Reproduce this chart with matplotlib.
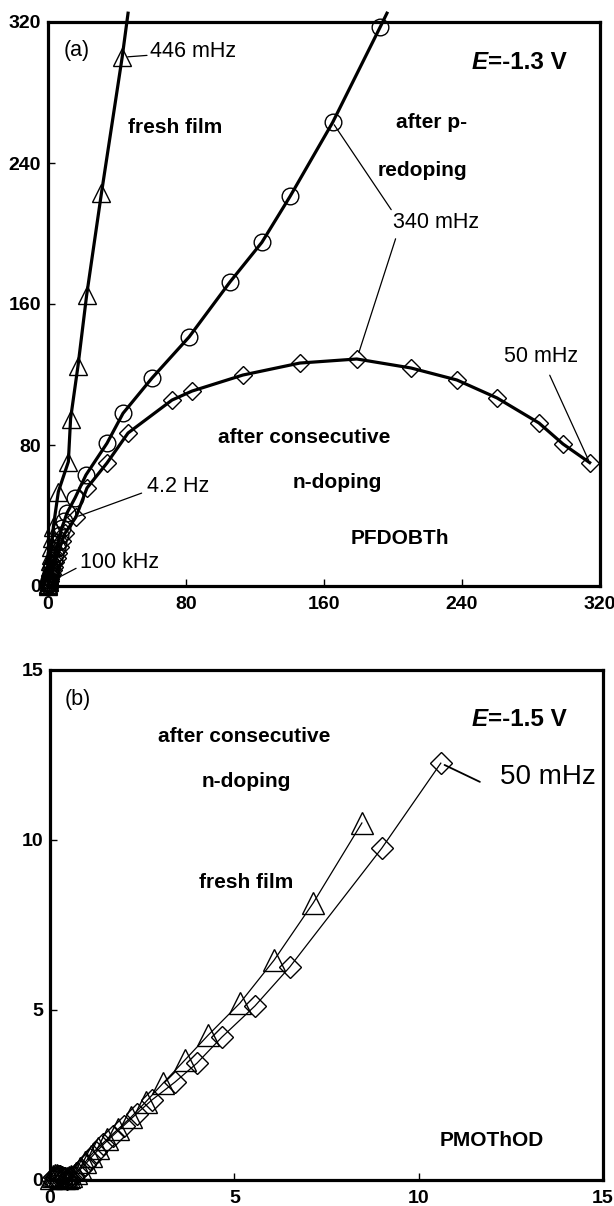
# Nyquist plots (a) PFDOBTh at E=-1.3 V and (b) PMOThOD at E=-1.5 V

import numpy as np
import matplotlib.pyplot as plt

plt.rcParams['font.family'] = ['Liberation Sans', 'DejaVu Sans']

# ---- panel (a) data ----
fresh_a_x = [43, 31, 22.4, 17.4, 13.1, 11.8, 6.0, 3.1, 2.5, 2.0, 1.6, 1.2, 1.0, 0.8,
             0.6, 0.5, 0.4, 0.3, 0.2, 0.1, 0.05]
fresh_a_y = [300, 223, 165, 125, 95, 70.5, 53.5, 33.6, 27, 22, 17.5, 14, 11, 8,
             6, 4, 3, 2, 1.2, 0.5, 0.2]
fresh_a_tail = (46.4, 325)

redop_a_x = [192.5, 165, 140.3, 124, 105.5, 81.8, 60.3, 43.5, 34.2, 22, 15.7, 11,
             9.5, 8, 7, 6, 5, 4, 3.2, 2.5, 2, 1.5, 1.1, 0.8, 0.5, 0.3, 0.1]
redop_a_y = [317, 263, 221, 195, 172.5, 141.3, 118, 98, 81, 63, 50, 41.4,
             37, 33, 29, 25, 21.5, 18, 15, 12, 9.5, 7, 5, 3.5, 2, 1, 0.3]
redop_a_tail = (196.5, 325)

ndop_a_x = [314, 298.5, 284.6, 260.3, 237, 210.4, 179, 146, 113, 83.5, 71.9, 46.4,
            34.2, 22.6, 16.2, 9.9, 8.2, 7, 6, 5, 4.2, 3.5, 2.8, 2.2, 1.7, 1.2, 0.9,
            0.6, 0.4, 0.2]
ndop_a_y = [70, 80.6, 92.5, 106.7, 116.9, 123.7, 128.8, 126.5, 119.7, 110.6, 105.5, 86.8,
            69.8, 55.6, 39.1, 30, 25.5, 22, 19, 16, 13.5, 11, 9, 7, 5.5, 4, 3,
            2, 1.2, 0.5]

ticks_a = [0, 80, 160, 240, 320]

# ---- panel (b) data ----
ndop_b_x = [10.6, 9.0, 6.5, 5.56, 4.66, 3.99, 3.39, 2.76, 2.35, 2.0, 1.7, 1.45, 1.25,
            1.08, 0.95, 0.83, 0.72, 0.62, 0.57, 0.52, 0.47, 0.42, 0.37, 0.32, 0.27,
            0.22, 0.17, 0.12, 0.05]
ndop_b_y = [12.26, 9.76, 6.26, 5.12, 4.2, 3.44, 2.88, 2.35, 1.95, 1.6, 1.3, 1.05, 0.82,
            0.62, 0.45, 0.32, 0.2, 0.1, 0.07, 0.05, 0.04, 0.05, 0.07, 0.1, 0.12,
            0.12, 0.1, 0.08, 0.03]

fresh_b_x = [8.46, 7.14, 6.08, 5.15, 4.29, 3.66, 3.07, 2.6, 2.2, 1.85, 1.55, 1.3, 1.1,
             0.95, 0.82, 0.7, 0.58, 0.52, 0.45, 0.38, 0.3, 0.24, 0.18, 0.13, 0.08, 0.02]
fresh_b_y = [10.5, 8.15, 6.47, 5.2, 4.26, 3.53, 2.85, 2.3, 1.85, 1.5, 1.2, 0.95, 0.72,
             0.52, 0.36, 0.22, 0.12, 0.08, 0.06, 0.06, 0.08, 0.12, 0.15, 0.14, 0.12, 0.05]

ticks_b = [0, 5, 10, 15]

W, H = 614, 1206
fig = plt.figure(figsize=(W/100, H/100), dpi=100)

ax1 = fig.add_axes([48/W, 1 - 586/H, 552/W, 564/H])
ax2 = fig.add_axes([50/W, 1 - 1180/H, 553/W, 510/H])


def style(ax, ticks):
    ax.set_xlim(ticks[0], ticks[-1])
    ax.set_ylim(ticks[0], ticks[-1])
    ax.set_xticks(ticks)
    ax.set_yticks(ticks)
    for s in ax.spines.values():
        s.set_linewidth(2.3)
    ax.tick_params(direction='in', length=5, width=1.0, labelsize=14)
    ax.tick_params(axis='y', pad=5)
    ax.tick_params(axis='x', pad=7)
    for lab in ax.get_xticklabels() + ax.get_yticklabels():
        lab.set_fontweight('bold')


# panel (a)
lw_a = 2.3
ax1.plot([fresh_a_tail[0]] + fresh_a_x, [fresh_a_tail[1]] + fresh_a_y, color='black',
         lw=lw_a, clip_on=False, zorder=3)
ax1.plot(fresh_a_x, fresh_a_y, ls='none', marker='^', ms=13.5, mfc='none', mec='black',
         mew=1.0, zorder=4, clip_on=False)
ax1.plot([redop_a_tail[0]] + redop_a_x, [redop_a_tail[1]] + redop_a_y, color='black',
         lw=lw_a, clip_on=False, zorder=3)
ax1.plot(redop_a_x, redop_a_y, ls='none', marker='o', ms=12, mfc='none', mec='black',
         mew=1.0, zorder=4, clip_on=False)
ax1.plot(ndop_a_x, ndop_a_y, color='black', lw=lw_a, zorder=3)
ax1.plot(ndop_a_x, ndop_a_y, ls='none', marker='D', ms=9, mfc='none', mec='black',
         mew=1.0, zorder=4, clip_on=False)
style(ax1, ticks_a)

bold = dict(fontsize=15, fontweight='bold', ha='center', va='center')
norm = dict(fontsize=15.5, va='center')
lead = dict(arrowstyle='-', lw=0.9, color='black', shrinkA=0, shrinkB=4)

ax1.text(16.8, 304, '(a)', ha='center', **norm)
ax1.annotate('446 mHz', xy=(fresh_a_x[0], fresh_a_y[0]), xytext=(59, 303), ha='left',
             arrowprops=lead, **norm)
ax1.text(73.9, 260, 'fresh film', **bold)
ax1.text(255, 297, 'E', fontsize=17.5, fontweight='bold', style='italic', ha='right',
         va='center')
ax1.text(255, 297, '=-1.3 V', fontsize=17.5, fontweight='bold', ha='left', va='center')
ax1.text(243, 262.7, 'after p-', fontsize=15, fontweight='bold', ha='right', va='center')
ax1.text(243, 236, 'redoping', fontsize=15, fontweight='bold', ha='right', va='center')
ax1.annotate('340 mHz', xy=(redop_a_x[1], redop_a_y[1]), xytext=(225, 206), ha='center',
             arrowprops=dict(lead, shrinkB=2, relpos=(0.0, 1.0)), **norm)
ax1.annotate('', xy=(ndop_a_x[6], ndop_a_y[6]), xytext=(201.5, 197),
             arrowprops=dict(lead, shrinkB=5))
ax1.annotate('50 mHz', xy=(ndop_a_x[0], ndop_a_y[0]), xytext=(286, 130), ha='center',
             arrowprops=dict(lead, shrinkA=4, shrinkB=2), **norm)
ax1.text(148.4, 84.5, 'after consecutive', **bold)
ax1.text(167.5, 59, 'n-doping', **bold)
ax1.annotate('4.2 Hz', xy=(ndop_a_x[14], ndop_a_y[14]), xytext=(57.4, 56.2), ha='left',
             arrowprops=dict(lead, shrinkA=2, shrinkB=2, relpos=(0.0, 0.3)), **norm)
ax1.annotate('100 kHz', xy=(ndop_a_x[-3], ndop_a_y[-3]), xytext=(18.6, 13.6), ha='left',
             arrowprops=dict(lead, shrinkA=1, shrinkB=6, relpos=(0.0, 0.3)), **norm)
ax1.text(204, 26.7, 'PFDOBTh', **bold)

# panel (b)
lw_b = 0.9
ax2.plot(ndop_b_x, ndop_b_y, color='black', lw=lw_b, zorder=3)
ax2.plot(ndop_b_x, ndop_b_y, ls='none', marker='D', ms=11, mfc='none', mec='black',
         mew=1.0, zorder=4, clip_on=False)
ax2.plot(fresh_b_x, fresh_b_y, color='black', lw=lw_b, zorder=3)
ax2.plot(fresh_b_x, fresh_b_y, ls='none', marker='^', ms=15.5, mfc='none', mec='black',
         mew=1.0, zorder=4, clip_on=False)
style(ax2, ticks_b)

ax2.text(0.76, 14.12, '(b)', ha='center', **norm)
ax2.text(5.26, 13.03, 'after consecutive', **bold)
ax2.text(5.32, 11.71, 'n-doping', **bold)
ax2.text(5.32, 8.76, 'fresh film', **bold)
ax2.text(11.88, 13.53, 'E', fontsize=17.5, fontweight='bold', style='italic', ha='right',
         va='center')
ax2.text(11.88, 13.53, '=-1.5 V', fontsize=17.5, fontweight='bold', ha='left', va='center')
ax2.text(12.2, 11.85, '50 mHz', ha='left', va='center', fontsize=20)
ax2.annotate('', xy=(ndop_b_x[0], ndop_b_y[0]), xytext=(11.66, 11.71),
             arrowprops=dict(arrowstyle='-', lw=1.3, color='black', shrinkA=0, shrinkB=3))
ax2.text(11.99, 1.15, 'PMOThOD', **bold)

plt.savefig('out.png', dpi=100)
